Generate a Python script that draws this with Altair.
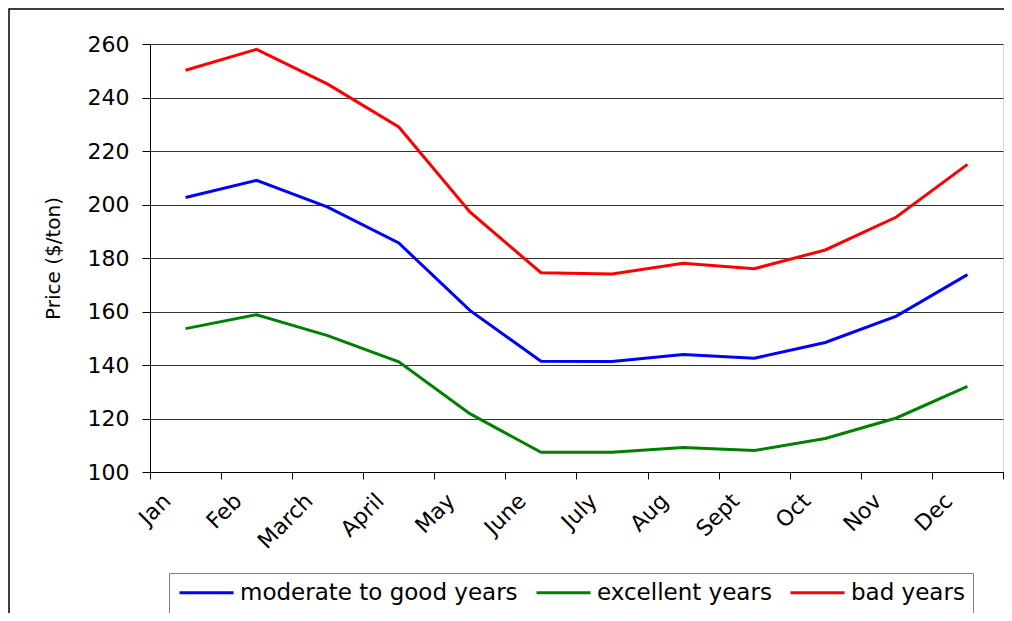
import altair as alt
import pandas as pd

months = ["Jan", "Feb", "March", "April", "May", "June", "July", "Aug", "Sept", "Oct", "Nov", "Dec"]
series_names = ["moderate to good years", "excellent years", "bad years"]
series_colors = ["#0000FF", "#008000", "#FF0000"]

moderate = [202.6, 209.0, 199.0, 185.6, 160.4, 141.4, 141.3, 143.9, 142.5, 148.4, 158.3, 173.8]
excellent = [153.6, 158.8, 151.0, 141.2, 121.8, 107.4, 107.4, 109.2, 108.0, 112.5, 120.2, 132.0]
bad = [250.2, 258.0, 245.0, 229.0, 197.2, 174.5, 174.0, 178.0, 176.0, 183.0, 195.3, 215.0]

y_ticks = [100, 120, 140, 160, 180, 200, 220, 240, 260]

rows = []
for name, vals in zip(series_names, [moderate, excellent, bad]):
    for m, v in zip(months, vals):
        rows.append({"month": m, "price": v, "series": name})
df = pd.DataFrame(rows)

FONT = "DejaVu Sans"
W, H = 853, 428

lines = alt.Chart(df).mark_line(strokeWidth=3).encode(
    x=alt.X(
        "month:N",
        sort=months,
        bandPosition=0.5,
        scale=alt.Scale(type="band", paddingInner=0, paddingOuter=0),
        axis=alt.Axis(
            title=None,
            labelAngle=-45,
            labelAlign="right",
            labelBaseline="middle",
            labelOffset=-19,
            labelPadding=18,
            tickBand="extent",
            tickSize=7,
            tickColor="black",
            domainColor="black",
            labelFont=FONT,
            labelFontSize=22,
            labelColor="black",
            grid=False,
        ),
    ),
    y=alt.Y(
        "price:Q",
        scale=alt.Scale(domain=[100, 260], nice=False, zero=False),
        axis=alt.Axis(
            title="Price ($/ton)",
            values=y_ticks,
            tickSize=8,
            tickColor="black",
            domainColor="black",
            labelPadding=13,
            labelFont=FONT,
            labelFontSize=22,
            labelColor="black",
            titleFont=FONT,
            titleFontSize=20,
            titleFontWeight="normal",
            titleColor="black",
            titlePadding=24,
            grid=True,
            gridColor="#333333",
            gridWidth=1,
        ),
    ),
    color=alt.Color(
        "series:N",
        sort=series_names,
        scale=alt.Scale(domain=series_names, range=series_colors),
        legend=alt.Legend(
            title=None,
            orient="none",
            legendX=19,
            legendY=529,
            direction="horizontal",
            columns=3,
            symbolType="M-1,0H5",
            symbolStrokeWidth=3,
            symbolSize=324,
            labelFont=FONT,
            labelFontSize=23,
            labelColor="black",
            labelOffset=40,
            labelLimit=600,
            columnPadding=12,
            strokeColor="#808080",
            padding=8,
        ),
    ),
)

border = alt.Chart(pd.DataFrame({"a": [0]})).mark_rect(
    fill=None, stroke="black", strokeWidth=1.5
).encode(
    x=alt.value(-141), x2=alt.value(W + 60),
    y=alt.value(-35), y2=alt.value(H + 300),
)

chart = alt.layer(border, lines).properties(
    width=W,
    height=H,
    padding={"left": 142, "top": 36, "right": 1, "bottom": 141},
    autosize=alt.AutoSizeParams(type="none"),
).configure_view(
    stroke="#808080", strokeWidth=1.5
).configure(
    background="white"
)

chart.save("out.html", embed_options={"renderer": "svg", "actions": False})
